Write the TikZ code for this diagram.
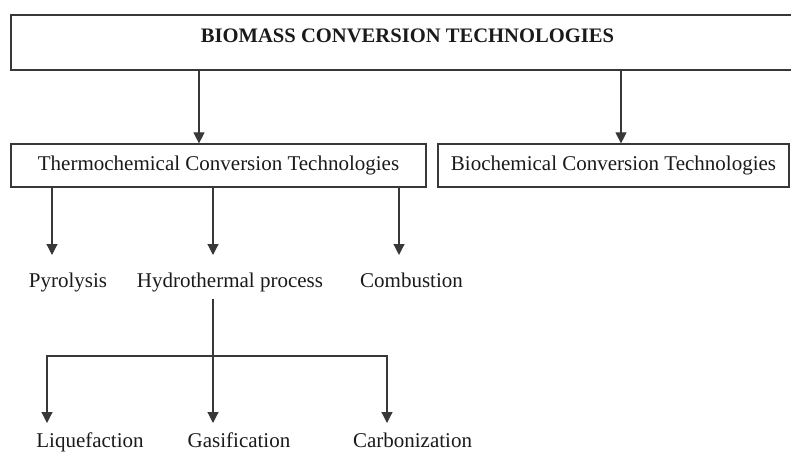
\documentclass[tikz,border=0pt]{standalone}
\usepackage{fontspec}
\setmainfont{Liberation Serif}
\definecolor{mLine}{HTML}{383838}
\definecolor{mText}{HTML}{1A1A1A}
\usepackage{tikz}
\usetikzlibrary{positioning,arrows.meta,calc}
\newcommand{\leafnode}[3]{%
 \node[anchor=base, font=\fontsize{10.5}{12}\selectfont, text=mText] (#1) at (#2) {#3};}

\begin{document}
\begin{tikzpicture}[x=0.5pt, y=-0.5pt,
 box/.style={draw=mLine, line width=0.6pt, inner sep=0pt, font=\fontsize{10.5}{12}\selectfont, text=mText},
 arr/.style={-{Triangle[width=5.5pt,length=5.5pt]}, draw=mLine, line width=0.6pt}]
\useasboundingbox (0,0) rectangle (791,454);
% top box, open to the right edge
\node[box, minimum width=391pt, minimum height=27.5pt] (biomass) at (402,42.5) {};
\node[anchor=base, font=\fontsize{10.3}{12}\selectfont\bfseries, text=mText] (title) at (407.5,43) {BIOMASS CONVERSION TECHNOLOGIES};
\node[box, minimum width=207.5pt, minimum height=21.5pt] (thermo) at (218.5,165.5) {Thermochemical Conversion Technologies};
\node[box, minimum width=175.5pt, minimum height=21.5pt] (bio) at (613.5,165.5) {Biochemical Conversion Technologies};
\coordinate (thermoIn) at (199,0);
\coordinate (bioIn) at (621,0);
\draw[arr] (biomass.south -| thermoIn) -- (thermo.north -| thermoIn);
\draw[arr] (biomass.south -| bioIn) -- (bio.north -| bioIn);
% thermochemical routes
\leafnode{pyro}{68,287}{Pyrolysis}
\leafnode{hydro}{230,287}{Hydrothermal process}
\leafnode{comb}{411.5,287}{Combustion}
\coordinate (pyroTip) at (52,255);
\coordinate (hydroTip) at (213,255);
\coordinate (combTip) at (399,255);
\draw[arr] (thermo.south -| pyroTip) -- (pyroTip);
\draw[arr] (thermo.south -| hydroTip) -- (hydroTip);
\draw[arr] (thermo.south -| combTip) -- (combTip);
% hydrothermal products
\leafnode{liq}{90,447}{Liquefaction}
\leafnode{gas}{239,447}{Gasification}
\leafnode{carb}{412.5,447}{Carbonization}
\coordinate (split) at (213,356);
\coordinate (liqTip) at (47,423);
\coordinate (gasTip) at (213,423);
\coordinate (carbTip) at (387,423);
\draw[mLine, line width=0.6pt] (hydro.south -| split) -- (split);
\draw[arr] (split) -| (liqTip);
\draw[arr] (split) -- (gasTip);
\draw[arr] (split) -| (carbTip);
\end{tikzpicture}
\end{document}
